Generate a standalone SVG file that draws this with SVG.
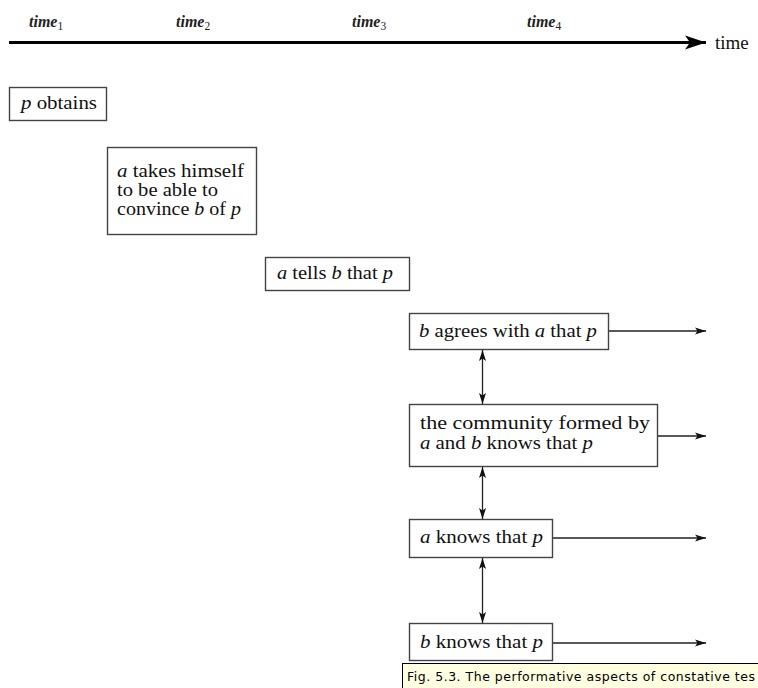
<svg xmlns="http://www.w3.org/2000/svg" width="758" height="688" viewBox="0 0 758 688">
<defs>
<style>
.box{fill:#fff;stroke:#444;stroke-width:1.4}
.t{font-family:"Liberation Serif","Times New Roman",serif;font-size:19px;fill:#111}
.i{font-style:italic}
.tl{font-family:"Liberation Serif","Times New Roman",serif;font-size:16px;font-style:italic;font-weight:bold;fill:#222}
.sub{font-style:normal;font-weight:normal;font-size:11.5px}
.conn{stroke:#222;stroke-width:1.3;fill:none}
.cap{font-family:"DejaVu Sans",Verdana,sans-serif;font-size:12.5px;fill:#000}
</style>
<marker id="ah" markerUnits="userSpaceOnUse" markerWidth="12" markerHeight="8" refX="11" refY="4" orient="auto-start-reverse">
<path d="M0,0.5 L11,4 L0,7.5 L2.5,4 z" fill="#111"/>
</marker>
<marker id="big" markerUnits="userSpaceOnUse" markerWidth="22" markerHeight="16" refX="21" refY="8" orient="auto">
<path d="M0,1 L21,8 L0,15 L5,8 z" fill="#000"/>
</marker>
</defs>

<g id="axis">
<line x1="9" y1="42.5" x2="706" y2="42.5" stroke="#000" stroke-width="3" marker-end="url(#big)"/>
<text class="t" x="715" y="49">time</text>
<text class="tl" x="29" y="27">time<tspan class="sub" dy="3">1</tspan></text>
<text class="tl" x="176" y="27">time<tspan class="sub" dy="3">2</tspan></text>
<text class="tl" x="352" y="27">time<tspan class="sub" dy="3">3</tspan></text>
<text class="tl" x="527" y="27">time<tspan class="sub" dy="3">4</tspan></text>
</g>

<g id="n1">
<rect class="box" x="9.5" y="87.5" width="97" height="33"/>
<text class="t" x="21" y="109" textLength="76" lengthAdjust="spacingAndGlyphs"><tspan class="i">p</tspan> obtains</text>
</g>

<g id="n2">
<rect class="box" x="107.5" y="147.5" width="149" height="87"/>
<text class="t" x="117" y="177" textLength="127" lengthAdjust="spacingAndGlyphs"><tspan class="i">a</tspan> takes himself</text>
<text class="t" x="117" y="196" textLength="101" lengthAdjust="spacingAndGlyphs">to be able to</text>
<text class="t" x="117" y="215" textLength="124" lengthAdjust="spacingAndGlyphs">convince <tspan class="i">b</tspan> of <tspan class="i">p</tspan></text>
</g>

<g id="n3">
<rect class="box" x="265.5" y="257.5" width="144" height="33"/>
<text class="t" x="277" y="279" textLength="116" lengthAdjust="spacingAndGlyphs"><tspan class="i">a</tspan> tells <tspan class="i">b</tspan> that <tspan class="i">p</tspan></text>
</g>

<g id="n4">
<rect class="box" x="409.5" y="313.5" width="199" height="36"/>
<text class="t" x="419" y="337" textLength="178" lengthAdjust="spacingAndGlyphs"><tspan class="i">b</tspan> agrees with <tspan class="i">a</tspan> that <tspan class="i">p</tspan></text>
</g>

<g id="n5">
<rect class="box" x="409.5" y="404.5" width="248" height="62"/>
<text class="t" x="420" y="429" textLength="230" lengthAdjust="spacingAndGlyphs">the community formed by</text>
<text class="t" x="420" y="449" textLength="173" lengthAdjust="spacingAndGlyphs"><tspan class="i">a</tspan> and <tspan class="i">b</tspan> knows that <tspan class="i">p</tspan></text>
</g>

<g id="n6">
<rect class="box" x="409.5" y="519.5" width="143" height="38"/>
<text class="t" x="420" y="543" textLength="123" lengthAdjust="spacingAndGlyphs"><tspan class="i">a</tspan> knows that <tspan class="i">p</tspan></text>
</g>

<g id="n7">
<rect class="box" x="409.5" y="623.5" width="143" height="37"/>
<text class="t" x="420" y="648" textLength="123" lengthAdjust="spacingAndGlyphs"><tspan class="i">b</tspan> knows that <tspan class="i">p</tspan></text>
</g>

<g id="connectors">
<line class="conn" x1="609" y1="331" x2="706" y2="331" marker-end="url(#ah)"/>
<line class="conn" x1="658" y1="436" x2="706" y2="436" marker-end="url(#ah)"/>
<line class="conn" x1="553" y1="538" x2="706" y2="538" marker-end="url(#ah)"/>
<line class="conn" x1="553" y1="643" x2="706" y2="643" marker-end="url(#ah)"/>
<line class="conn" x1="482.5" y1="350" x2="482.5" y2="404" marker-start="url(#ah)" marker-end="url(#ah)"/>
<line class="conn" x1="482.5" y1="467" x2="482.5" y2="519" marker-start="url(#ah)" marker-end="url(#ah)"/>
<line class="conn" x1="482.5" y1="558" x2="482.5" y2="623" marker-start="url(#ah)" marker-end="url(#ah)"/>
</g>

<g id="caption">
<rect x="402.5" y="663.5" width="360" height="30" fill="#FFFFE1" stroke="#000" stroke-width="1"/>
<text class="cap" x="407" y="681" textLength="348" lengthAdjust="spacing">Fig. 5.3. The performative aspects of constative tes</text>
</g>
</svg>
